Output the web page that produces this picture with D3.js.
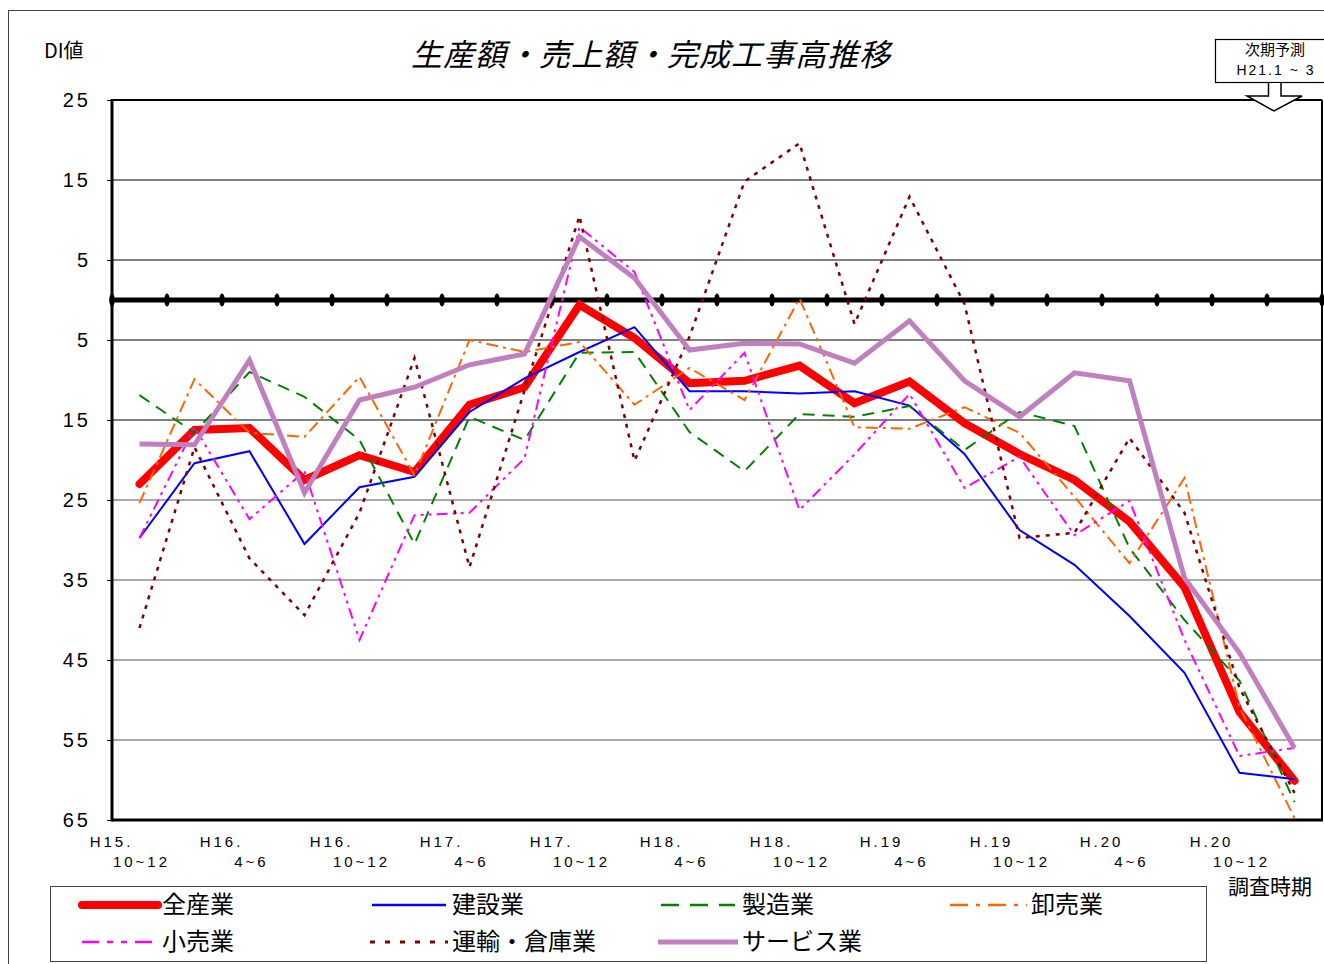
<!DOCTYPE html>
<html><head><meta charset="utf-8">
<script src="https://cdn.jsdelivr.net/npm/d3@7"></script>
<style>
body{margin:0;background:#fff;}
svg{display:block;}
.num{font-family:"Liberation Sans",Arial,sans-serif;}
.jp{font-family:"Noto Sans CJK JP","Noto Sans",sans-serif;}
</style></head>
<body>
<svg id="c" width="1324" height="964"></svg>
<script>
const periods = ["H15.10-12","H16.1-3","H16.4-6","H16.7-9","H16.10-12","H17.1-3","H17.4-6","H17.7-9","H17.10-12",
  "H18.1-3","H18.4-6","H18.7-9","H18.10-12","H19.1-3","H19.4-6","H19.7-9","H19.10-12","H20.1-3","H20.4-6","H20.7-9","H20.10-12","H21.1-3"];
const tickLine1 = ["H15.","H16.","H16.","H17.","H17.","H18.","H18.","H.19","H.19","H.20","H.20"];
const tickLine2 = ["10~12","4~6","10~12","4~6","10~12","4~6","10~12","4~6","10~12","4~6","10~12"];
const yTicks = [25,15,5,-5,-15,-25,-35,-45,-55,-65];

const allIndustries = [-23,-16.25,-16,-22.5,-19.4,-21.5,-13.1,-10.9,-0.6,-4.75,-10.4,-10.1,-8.2,-12.9,-10.2,-15.4,-19.25,-22.5,-27.7,-35.9,-51.5,-60.1];
const construction = [-29.75,-20.4,-18.9,-30.5,-23.4,-22.1,-14,-9.8,-6.5,-3.4,-11.4,-11.4,-11.7,-11.4,-13.2,-19.25,-28.75,-33.1,-39.5,-46.6,-59.1,-59.9];
const manufacturing = [-11.9,-16.6,-9,-12.1,-17.5,-30.5,-14.6,-17.5,-6.6,-6.5,-16.5,-21.4,-14.25,-14.6,-13.25,-18.75,-14,-15.75,-31,-40,-47.6,-62.75];
const wholesale = [-25.4,-9.9,-16.6,-17.1,-9.6,-21.9,-5,-6.5,-5.25,-13.1,-8.5,-12.5,0.2,-15.9,-16.1,-13.4,-16.6,-24.6,-32.9,-22.25,-50.9,-64.75];
const retail = [-29.75,-15.9,-27.4,-21.4,-42.5,-26.9,-26.6,-19.8,9.1,3.5,-13.75,-6.6,-26.25,-19.3,-11.75,-23.5,-19.6,-29.4,-25.1,-42.5,-57,-56];
const transport = [-41,-18.4,-32.3,-39.4,-26.6,-7.25,-33.4,-11.3,10.5,-20.1,-4.6,14.8,19.6,-3,12.9,-0.5,-29.75,-29.1,-17.25,-26.6,-48.5,-61.6];
const services = [-18,-18.1,-7.5,-24.1,-12.5,-10.9,-8.1,-6.75,7.9,2.75,-6.25,-5.4,-5.5,-7.9,-2.6,-10.1,-14.6,-9.1,-10.1,-34.75,-44.1,-56];

const seriesNames = ["全産業","建設業","製造業","卸売業","小売業","運輸・倉庫業","サービス業"];
const seriesValues = [allIndustries, construction, manufacturing, wholesale, retail, transport, services];
const seriesStyles = [
  {color:"#FF0000", w:8, dash:null, cap:"round"},
  {color:"#0000FF", w:2, dash:null},
  {color:"#008000", w:2, dash:"12,8"},
  {color:"#FF6600", w:2, dash:"12,5,3,5"},
  {color:"#FF00FF", w:2, dash:"11,5,3,5,3,5"},
  {color:"#800000", w:2.5, dash:"4,6"},
  {color:"#C080C0", w:5, dash:null}
];

const svg = d3.select("#c");
const L = 112, R = 1322, T = 100, B = 820;
const x = d3.scaleBand().domain(periods).range([L, R]);
const cx = p => x(p) + x.bandwidth()/2;
const y = d3.scaleLinear().domain([-65, 25]).range([B, T]);

// outer frame
svg.append("rect").attr("x",8.5).attr("y",10.5).attr("width",1330).attr("height",970)
  .attr("fill","none").attr("stroke","#444").attr("stroke-width",1);

// gridlines
svg.append("g").selectAll("line").data(yTicks.filter(d => d !== 25 && d !== -65))
  .join("line").attr("x1",L).attr("x2",R).attr("y1",d=>y(d)).attr("y2",d=>y(d))
  .attr("stroke", d => d >= -15 ? "#000" : "#555").attr("stroke-width",1);

// y axis
const yAxis = d3.axisLeft(y).tickValues(yTicks).tickFormat(d => Math.abs(d)).tickSize(5).tickPadding(16);
const gy = svg.append("g").attr("transform",`translate(${L},0)`).call(yAxis);
gy.select(".domain").remove();
gy.selectAll(".tick line").attr("stroke","#000");
gy.selectAll(".tick text").attr("class","num").attr("font-size",20).attr("fill","#000")
  .style("letter-spacing","3px");

// zero line with markers
svg.append("line").attr("x1",L).attr("x2",R).attr("y1",y(0)).attr("y2",y(0))
  .attr("stroke","#000").attr("stroke-width",5);
const bounds = periods.map(p => x(p)).concat([R]);
svg.append("g").selectAll("ellipse").data(bounds).join("ellipse")
  .attr("cx",d=>d).attr("cy",y(0)).attr("rx",2.8).attr("ry",6.5).attr("fill","#000");

// plot frame
svg.append("line").attr("x1",L).attr("x2",R).attr("y1",T).attr("y2",T).attr("stroke","#000").attr("stroke-width",2);
svg.append("line").attr("x1",R).attr("x2",R).attr("y1",T).attr("y2",B).attr("stroke","#000").attr("stroke-width",2);
svg.append("line").attr("x1",L).attr("x2",L).attr("y1",T-1).attr("y2",B+1.5).attr("stroke","#000").attr("stroke-width",3);
svg.append("line").attr("x1",L).attr("x2",R+1).attr("y1",B).attr("y2",B).attr("stroke","#000").attr("stroke-width",3);

// series
const line = d3.line().x((d,i) => cx(periods[i])).y(d => y(d));
const gs = svg.append("g");
seriesValues.forEach((vals, k) => {
  const s = seriesStyles[k];
  gs.append("path").datum(vals).attr("d", line).attr("fill","none")
    .attr("stroke", s.color).attr("stroke-width", s.w)
    .attr("stroke-dasharray", s.dash).attr("stroke-linecap", s.cap || "butt")
    .attr("stroke-linejoin","miter");
});

// x tick labels
const labelIdx = d3.range(0, periods.length, 2).slice(0, tickLine1.length);
const gx = svg.append("g").attr("class","num").attr("font-size",15).attr("fill","#000").style("letter-spacing","3px");
labelIdx.forEach((pi, j) => {
  const px = cx(periods[pi]);
  gx.append("text").attr("x", px - 28).attr("y", 847).attr("text-anchor","middle").text(tickLine1[j]);
  gx.append("text").attr("x", px + 2).attr("y", 867).attr("text-anchor","middle").text(tickLine2[j]);
});

// texts
svg.append("text").attr("class","jp").attr("x",44).attr("y",58).attr("font-size",20).text("DI値");
svg.append("text").attr("class","jp").attr("x",651).attr("y",66).attr("text-anchor","middle")
  .attr("font-size",31).attr("font-style","italic").style("letter-spacing","1px").text("生産額・売上額・完成工事高推移");
svg.append("text").attr("class","jp").attr("x",1228).attr("y",894).attr("font-size",21).text("調査時期");

// forecast box + arrow
svg.append("rect").attr("x",1215.5).attr("y",39.5).attr("width",120).attr("height",43)
  .attr("fill","#fff").attr("stroke","#000").attr("stroke-width",1.2);
svg.append("text").attr("class","jp").attr("x",1275).attr("y",55).attr("text-anchor","middle").attr("font-size",15).text("次期予測");
svg.append("text").attr("class","num").attr("x",1276).attr("y",75).attr("text-anchor","middle").attr("font-size",14)
  .style("letter-spacing","2px").text("H21.1 ~ 3");
svg.append("path").attr("d","M1268.5,83 L1268.5,96 L1247,96 L1274,111 L1302,96 L1281,96 L1281,83")
  .attr("fill","#fff").attr("stroke","#000").attr("stroke-width",1.5);

// legend
svg.append("rect").attr("x",50.5).attr("y",886.5).attr("width",1156).attr("height",75)
  .attr("fill","#fff").attr("stroke","#444").attr("stroke-width",1);
const legendPos = [
  {x1:82,x2:158,tx:162,ty:905},
  {x1:372,x2:446,tx:452,ty:905},
  {x1:661,x2:735,tx:742,ty:905},
  {x1:950,x2:1027,tx:1031,ty:905},
  {x1:82,x2:158,tx:162,ty:942},
  {x1:370,x2:448,tx:452,ty:942},
  {x1:658,x2:738,tx:742,ty:942}
];
const legendDash = [null, null, "18,11", "18,8,4,8", "17,8,6,8,6,8", "5,10", null];
seriesNames.forEach((n, k) => {
  const p = legendPos[k], s = seriesStyles[k];
  svg.append("line").attr("x1",p.x1).attr("x2",p.x2).attr("y1",p.ty).attr("y2",p.ty)
    .attr("stroke",s.color).attr("stroke-width", k===0 ? 8 : (k===6 ? 5 : (k===5 ? 3 : 2.5)))
    .attr("stroke-dasharray", legendDash[k]).attr("stroke-linecap", k===0 ? "round" : "butt");
  svg.append("text").attr("class","jp").attr("x",p.tx).attr("y",p.ty+8).attr("font-size",24).text(n);
});
</script>
</body></html>
